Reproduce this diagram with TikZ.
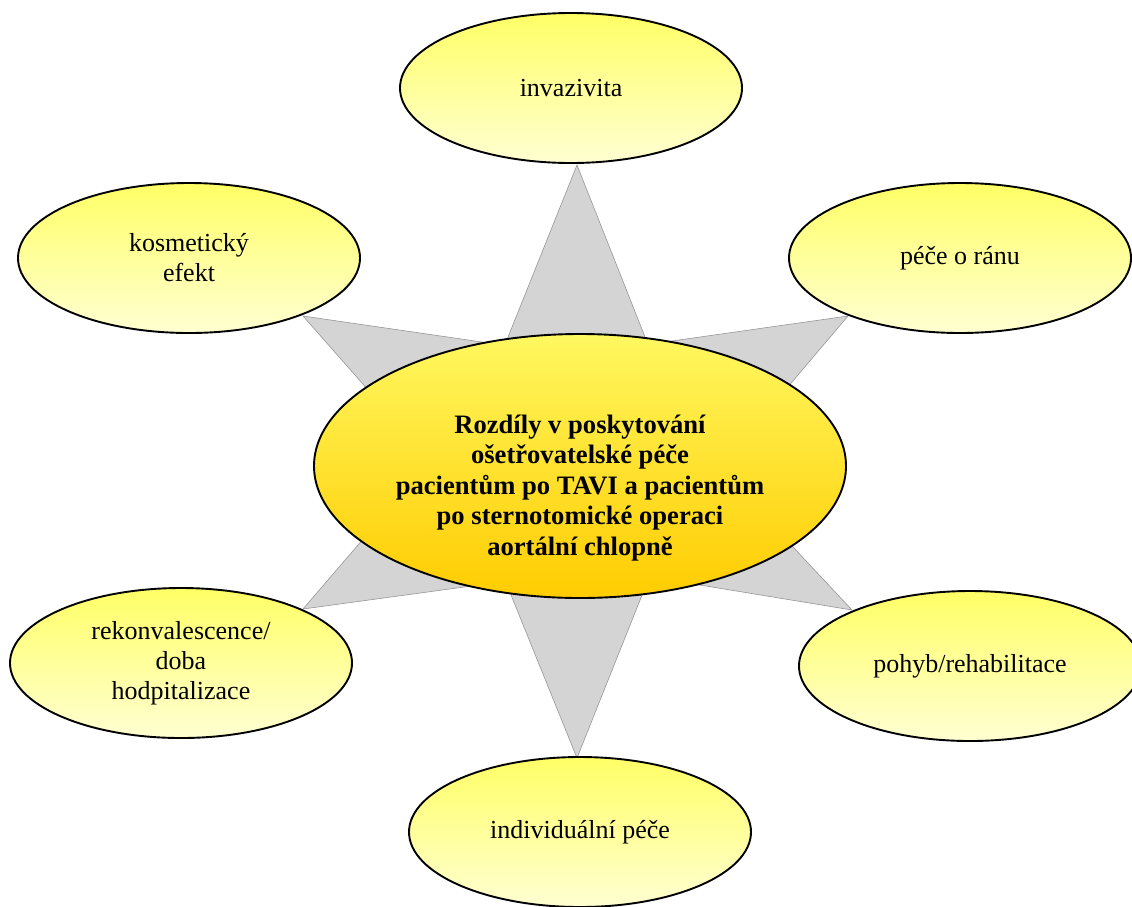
\documentclass[tikz,border=0pt]{standalone}
\usepackage{fontspec}
\setmainfont{Liberation Serif}
\usetikzlibrary{shapes.geometric}
\definecolor{ytop}{RGB}{255,255,102}
\definecolor{ybot}{RGB}{255,255,210}
\definecolor{ctop}{RGB}{255,248,96}
\definecolor{cbot}{RGB}{255,204,0}
\definecolor{spikefill}{RGB}{212,212,212}
\definecolor{spikeline}{RGB}{150,150,150}
\begin{document}
\begin{tikzpicture}[x=1pt,y=-1pt,
  outer/.style={ellipse, draw=black, line width=1.9pt, top color=ytop, bottom color=ybot,
    minimum width=342pt, minimum height=150pt, inner sep=0pt, align=center,
    font=\fontsize{26}{30}\selectfont},
  core/.style={ellipse, draw=black, line width=1.9pt, top color=ctop, bottom color=cbot,
    minimum width=532pt, minimum height=264pt, inner sep=0pt},
  coretext/.style={align=center, font=\bfseries\fontsize{26.6}{30.5}\selectfont, inner sep=0pt},
  spikes/.style={fill=spikefill, draw=spikeline, line width=0.6pt, line join=miter}]
\useasboundingbox (0,0) rectangle (1132,906);
% star apexes and edge guide points
\coordinate (T) at (577,165);
\coordinate (Ta) at (508,337);
\coordinate (Tb) at (645,337);
\coordinate (UR) at (848,316);
\coordinate (URa) at (700,337);
\coordinate (URb) at (792,382);
\coordinate (LR) at (852,610);
\coordinate (LRa) at (793,547);
\coordinate (LRb) at (700,585);
\coordinate (B) at (577,758);
\coordinate (Ba) at (642,595);
\coordinate (Bb) at (511,595);
\coordinate (LL) at (303,609);
\coordinate (LLa) at (420,593);
\coordinate (LLb) at (358,545);
\coordinate (UL) at (303,316);
\coordinate (ULa) at (362,383);
\coordinate (ULb) at (420,333);
\draw[spikes] (T) -- (intersection of T--Tb and UR--URa) -- (UR)
  -- (intersection of UR--URb and LR--LRa) -- (LR)
  -- (intersection of LR--LRb and B--Ba) -- (B)
  -- (intersection of B--Bb and LL--LLa) -- (LL)
  -- (intersection of LL--LLb and UL--ULa) -- (UL)
  -- (intersection of UL--ULb and T--Ta) -- cycle;
% outer ellipses
\node[outer] (inv) at (571,88) {invazivita};
\node[outer] (kos) at (189,258) {kosmetický\\efekt};
\node[outer] (pec) at (960,258) {péče o ránu};
\node[outer] (rek) at (181,663) {rekonvalescence/\\doba\\hodpitalizace};
\node[outer] (poh) at (970,666) {pohyb/rehabilitace};
\node[outer] (ind) at (580,832) {individuální péče};
% centre
\node[core] (c) at (580,466) {};
\node[coretext] (ct) at ([yshift=-22pt]c.center) {Rozdíly v poskytování\\ošetřovatelské péče\\pacientům po TAVI a pacientům\\po sternotomické operaci\\aortální chlopně};
\end{tikzpicture}
\end{document}
